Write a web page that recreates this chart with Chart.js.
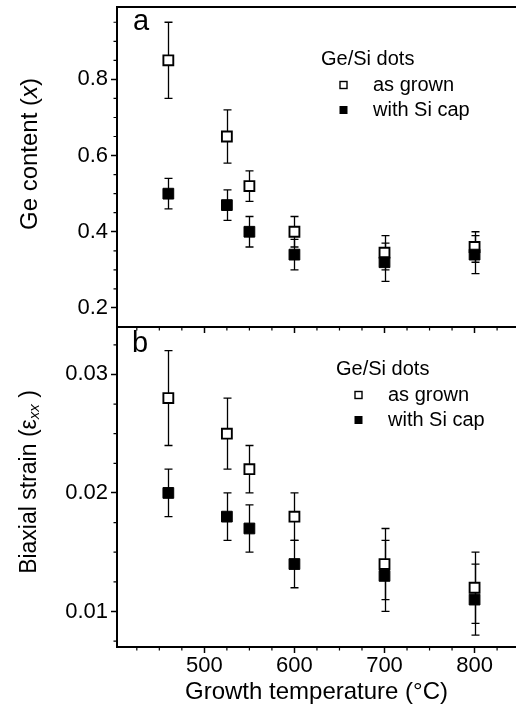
<!DOCTYPE html>
<html><head><meta charset="utf-8">
<script src="https://cdn.jsdelivr.net/npm/chart.js@4.4.1/dist/chart.umd.min.js"></script>
<style>
html,body{margin:0;padding:0;background:#fff;}
#wrap{position:relative;width:516px;height:713px;overflow:hidden;background:#fff;}
#ca{position:absolute;left:0;top:0;}
#cb{position:absolute;left:0;top:320px;}
</style></head><body>
<div id="wrap">
<canvas id="cb" width="516" height="393"></canvas>
<canvas id="ca" width="516" height="345"></canvas>
</div>
<script>
// ---- data ----
const temperatures = [460, 525, 550, 600, 700, 800];
const geAsGrown      = [0.85, 0.65, 0.52, 0.40, 0.345, 0.36];
const geAsGrownErr   = [0.10, 0.07, 0.04, 0.04, 0.045, 0.04];
const geCapped       = [0.50, 0.47, 0.40, 0.34, 0.32, 0.34];
const geCappedErr    = [0.04, 0.04, 0.04, 0.04, 0.05, 0.05];
const strainAsGrown    = [0.028, 0.025, 0.022, 0.018, 0.014, 0.012];
const strainAsGrownErr = [0.004, 0.003, 0.002, 0.002, 0.003, 0.003];
const strainCapped     = [0.020, 0.018, 0.017, 0.014, 0.013, 0.011];
const strainCappedErr  = [0.002, 0.002, 0.002, 0.002, 0.003, 0.003];
const xTicks = [500, 600, 700, 800];
const xMinorTicks = [425, 450, 475, 525, 550, 575, 625, 650, 675, 725, 750, 775, 825];
const geTicks = [0.2, 0.4, 0.6, 0.8];
const geMinorTicks = [0.25, 0.3, 0.35, 0.45, 0.5, 0.55, 0.65, 0.7, 0.75, 0.85, 0.9, 0.95];
const strainTicks = [0.01, 0.02, 0.03];
const strainMinorTicks = [0.0075, 0.0125, 0.015, 0.0175, 0.0225, 0.025, 0.0275, 0.0325];
const legendTitle = 'Ge/Si dots';
const seriesNames = ['as grown', 'with Si cap'];
const xTitle = 'Growth temperature (\u00B0C)';

const FONT = '"Liberation Sans", Arial, Helvetica, sans-serif';

const pts = (ys) => temperatures.map((t, i) => ({ x: t, y: ys[i] }));

const decor = {
  id: 'decor',
  beforeDatasetsDraw(chart, args, o) {
    const ctx = chart.ctx, xs = chart.scales.x, ys = chart.scales.y;
    ctx.save();
    ctx.strokeStyle = '#000';
    ctx.lineWidth = 1.3;
    chart.data.datasets.forEach(ds => {
      ds.data.forEach((p, i) => {
        const e = ds.errors[i];
        const px = Math.round(xs.getPixelForValue(p.x)) + 0.5;
        const y1 = ys.getPixelForValue(p.y + e), y2 = ys.getPixelForValue(p.y - e);
        ctx.beginPath();
        ctx.moveTo(px, y1); ctx.lineTo(px, y2);
        ctx.moveTo(px - 4, y1); ctx.lineTo(px + 4, y1);
        ctx.moveTo(px - 4, y2); ctx.lineTo(px + 4, y2);
        ctx.stroke();
      });
    });
    ctx.restore();
  },
  afterDraw(chart, args, o) {
    const ctx = chart.ctx, xs = chart.scales.x, ys = chart.scales.y, ca = chart.chartArea;
    ctx.save();
    ctx.strokeStyle = '#000';
    ctx.fillStyle = '#000';
    // minor ticks
    ctx.lineWidth = 1.2;
    ctx.beginPath();
    xMinorTicks.forEach(v => {
      const px = xs.getPixelForValue(v);
      ctx.moveTo(px, ca.bottom); ctx.lineTo(px, ca.bottom + 3.5);
    });
    o.yMinor.forEach(v => {
      const py = ys.getPixelForValue(v);
      ctx.moveTo(ca.left, py); ctx.lineTo(ca.left - 3.5, py);
    });
    ctx.stroke();
    // top frame line
    ctx.lineWidth = 2;
    ctx.beginPath();
    ctx.moveTo(ca.left - 1, ca.top); ctx.lineTo(ca.right + 2, ca.top);
    ctx.stroke();
    // panel label
    ctx.font = '29px ' + FONT;
    ctx.textBaseline = 'alphabetic';
    ctx.textAlign = 'left';
    ctx.fillText(o.panel, o.panelX, o.panelY);
    // legend
    const lg = o.legend;
    ctx.font = '20px ' + FONT;
    ctx.textBaseline = 'middle';
    ctx.fillText(legendTitle, lg.x, lg.y);
    ctx.lineWidth = 1.4;
    ctx.strokeRect(lg.x + 19, lg.y + 26 - 3.5, 7, 7);
    ctx.fillText(seriesNames[0], lg.x + 52, lg.y + 26);
    ctx.fillRect(lg.x + 18.5, lg.y + 51 - 4, 8, 8);
    ctx.fillText(seriesNames[1], lg.x + 52, lg.y + 51);
    // y title (rich text)
    const yt = o.yTitle;
    ctx.translate(yt.x, yt.y);
    ctx.rotate(-Math.PI / 2);
    let total = 0;
    yt.parts.forEach(p => { ctx.font = p.font; total += ctx.measureText(p.t).width; });
    let cx = -total / 2;
    ctx.textAlign = 'left';
    yt.parts.forEach(p => {
      ctx.font = p.font;
      ctx.fillText(p.t, cx, p.dy || 0);
      cx += ctx.measureText(p.t).width;
    });
    ctx.restore();
  }
};

function makeChart(id, cfg) {
  return new Chart(document.getElementById(id), {
    type: 'scatter',
    data: {
      datasets: [
        { label: seriesNames[1], data: pts(cfg.capped), errors: cfg.cappedErr,
          pointStyle: 'rect', pointRadius: 7.6, pointHoverRadius: 7.6,
          backgroundColor: '#000', borderColor: '#000', borderWidth: 1 },
        { label: seriesNames[0], data: pts(cfg.grown), errors: cfg.grownErr,
          pointStyle: 'rect', pointRadius: 7, pointHoverRadius: 7,
          backgroundColor: '#fff', borderColor: '#000', borderWidth: 1.9 }
      ]
    },
    options: {
      responsive: false, animation: false, devicePixelRatio: 1,
      layout: { autoPadding: false, padding: { top: 7, right: 0, left: 0, bottom: 0 } },
      events: [],
      plugins: { legend: { display: false }, tooltip: { enabled: false }, decor: cfg.decor },
      scales: {
        x: {
          type: 'linear', min: 403, max: 846,
          afterBuildTicks: s => { s.ticks = xTicks.map(v => ({ value: v })); },
          ticks: { display: cfg.showX, color: '#000', font: { family: FONT, size: 22 }, padding: 0, maxRotation: 0 },
          grid: { drawOnChartArea: false, tickLength: 6, tickColor: '#000', tickWidth: 1.5 },
          border: { color: '#000', width: 2 },
          title: { display: cfg.showX, text: xTitle, color: '#000', font: { family: FONT, size: 24 }, padding: { top: 2, bottom: 6 } },
          afterFit: s => { s.height = cfg.xHeight; s.paddingLeft = 0; s.paddingRight = 0; }
        },
        y: {
          type: 'linear', min: cfg.yMin, max: cfg.yMax,
          afterBuildTicks: s => { s.ticks = cfg.yTicks.map(v => ({ value: v })); },
          ticks: { color: '#000', font: { family: FONT, size: 22 }, padding: 3, callback: v => v.toFixed(cfg.dec) },
          grid: { drawOnChartArea: false, tickLength: 6, tickColor: '#000', tickWidth: 1.5 },
          border: { color: '#000', width: 2 },
          afterFit: s => { s.width = 117; s.paddingTop = 0; s.paddingBottom = 0; s.paddingLeft = 0; s.paddingRight = 0; }
        }
      }
    },
    plugins: [decor]
  });
}

makeChart('cb', {
  capped: strainCapped, cappedErr: strainCappedErr, grown: strainAsGrown, grownErr: strainAsGrownErr,
  yMin: 0.007, yMax: 0.034, yTicks: strainTicks, dec: 2, showX: true, xHeight: 66,
  decor: {
    yMinor: strainMinorTicks, panel: 'b', panelX: 132, panelY: 32,
    legend: { x: 336, y: 49 },
    yTitle: { x: 30, y: 162, parts: [
      { t: 'Biaxial strain (\u03B5', font: '23px ' + FONT },
      { t: 'xx', font: 'italic 15px ' + FONT, dy: 5 },
      { t: ' )', font: '23px ' + FONT }
    ] }
  }
});

makeChart('ca', {
  capped: geCapped, cappedErr: geCappedErr, grown: geAsGrown, grownErr: geAsGrownErr,
  yMin: 0.15, yMax: 0.99, yTicks: geTicks, dec: 1, showX: false, xHeight: 18,
  decor: {
    yMinor: geMinorTicks, panel: 'a', panelX: 133, panelY: 30,
    legend: { x: 321, y: 59 },
    yTitle: { x: 30, y: 154, parts: [
      { t: 'Ge content (', font: '24px ' + FONT },
      { t: 'x', font: 'italic 24px ' + FONT },
      { t: ')', font: '24px ' + FONT }
    ] }
  }
});
</script>
</body></html>
